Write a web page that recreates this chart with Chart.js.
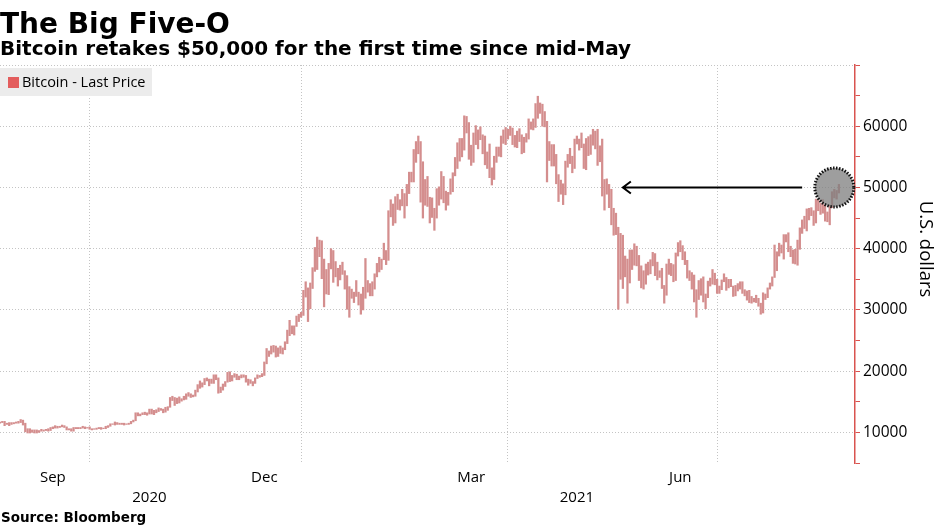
<!DOCTYPE html>
<html>
<head>
<meta charset="utf-8">
<script src="https://cdn.jsdelivr.net/npm/chart.js@4"></script>
<style>
  body { margin: 0; background: #fff; }
  #wrap { position: relative; width: 936px; height: 526px; overflow: hidden; }
  canvas { position: absolute; left: 0; top: 0; }
  .txt { position: absolute; left: 0; white-space: nowrap; line-height: 1; color: #000; font-family: "DejaVu Sans", sans-serif; font-weight: bold; }
  #title { top: 10px; font-size: 28px; }
  #subtitle { top: 38px; font-size: 20px; }
  #source { top: 511px; font-size: 13.5px; left: 1px; }
  #legend { position: absolute; left: 0; top: 68px; width: 152px; height: 28px; background: #ececec;
            font-family: "Open Sans", sans-serif; font-size: 14.5px; line-height: 28px; color: #000; }
  #legend i { position: absolute; left: 8px; top: 9px; width: 11px; height: 11px; background: #e35d5d; }
  #legend span { position: absolute; left: 22px; top: 0; }
</style>
</head>
<body>
<div id="wrap">
  <canvas id="c" width="936" height="526"></canvas>
  <div class="txt" id="title">The Big Five-O</div>
  <div class="txt" id="subtitle">Bitcoin retakes $50,000 for the first time since mid-May</div>
  <div class="txt" id="source">Source: Bloomberg</div>
  <div id="legend"><i></i><span>Bitcoin - Last Price</span></div>
</div>
<script>
// daily bars, one per day starting at startDate (values in thousands of dollars)
var startDate = "2020-08-23";

var highs = [
	// Aug 2020 (from 23rd)
	11.7, 11.8, 11.8, 11.5, 11.6, 11.6, 11.6, 11.7, 11.8,
	// Sep
	12.1, 12.0, 11.5, 10.6, 10.6, 10.4, 10.4, 10.4, 10.3, 10.5, 10.4, 10.5, 10.6, 10.8, 10.9, 11.1, 11.0, 11.0, 11.2, 11.1,
	10.9, 10.6, 10.6, 10.8, 10.8, 10.8, 10.8, 11.0, 10.9, 10.8,
	// Oct
	10.9, 10.6, 10.6, 10.7, 10.8, 10.8, 10.7, 11.0, 11.1, 11.4, 11.4, 11.7, 11.6, 11.5, 11.5, 11.5, 11.4, 11.5, 11.8, 12.0,
	13.2, 13.2, 13.0, 13.2, 13.3, 13.2, 13.8, 13.8, 13.6, 13.7, 14.0,
	// Nov
	13.9, 13.8, 14.1, 14.2, 15.7, 15.9, 15.7, 15.6, 15.8, 15.5, 15.9, 16.3, 16.5, 16.3, 16.1, 16.9, 17.8, 18.4, 18.1, 18.8,
	18.9, 18.7, 18.7, 19.4, 19.4, 18.9, 17.4, 17.9, 18.3, 19.8,
	// Dec
	19.9, 19.3, 19.6, 19.5, 19.2, 19.4, 19.4, 19.3, 18.7, 18.6, 18.3, 18.9, 19.4, 19.3, 19.6, 21.5, 23.7, 23.3, 24.1, 24.2,
	24.1, 23.8, 24.1, 23.8, 24.8, 26.7, 28.3, 27.4, 27.4, 29.0, 29.3,
	// Jan 2021
	29.6, 33.2, 34.6, 33.6, 34.4, 36.9, 40.2, 41.9, 41.4, 41.3, 38.3, 36.6, 37.6, 40.0, 39.7, 37.9, 36.8, 37.3, 37.8, 36.4,
	35.6, 33.8, 33.4, 32.9, 34.8, 32.9, 32.6, 33.7, 38.4, 34.8, 34.3,
	// Feb
	34.6, 35.9, 37.6, 38.6, 38.3, 40.9, 39.7, 46.2, 48.0, 47.3, 48.5, 48.9, 48.0, 49.7, 49.0, 50.5, 52.5, 52.5, 56.2, 57.5,
	58.4, 57.5, 54.2, 51.3, 51.8, 48.4, 48.3, 46.6,
	// Mar
	49.8, 50.1, 52.6, 51.8, 49.4, 49.2, 51.4, 52.4, 54.9, 57.3, 58.0, 58.0, 61.7, 61.6, 60.6, 56.9, 58.9, 60.1, 59.4, 59.9,
	58.6, 58.4, 55.8, 57.1, 53.2, 55.1, 56.6, 56.6, 58.4, 59.4, 59.8,
	// Apr
	59.5, 60.0, 59.7, 58.5, 59.2, 59.6, 58.6, 58.2, 58.8, 61.2, 60.7, 61.2, 63.7, 64.9, 63.8, 63.6, 62.4, 60.8, 57.5, 57.0,
	57.0, 55.4, 52.1, 51.2, 50.6, 54.3, 55.4, 56.4, 55.1, 57.9,
	// May
	58.4, 57.9, 58.9, 57.1, 58.0, 58.3, 58.6, 59.5, 59.2, 59.5, 56.8, 57.9, 51.3, 51.4, 50.5, 49.7, 46.6, 45.8, 43.5, 42.5,
	42.2, 38.8, 38.3, 39.8, 39.8, 40.8, 40.4, 38.9, 37.2, 36.4, 37.5,
	// Jun
	37.8, 38.2, 39.4, 39.2, 37.8, 36.4, 36.8, 34.0, 37.5, 38.3, 37.6, 37.4, 39.3, 41.0, 41.3, 40.5, 39.5, 38.1, 36.4, 36.1,
	35.7, 33.3, 34.8, 35.1, 35.4, 32.6, 34.7, 35.2, 36.6, 36.0,
	// Jul
	35.0, 33.9, 34.9, 35.9, 35.3, 35.0, 35.0, 33.9, 34.0, 34.3, 34.6, 34.6, 33.3, 33.1, 33.2, 32.2, 31.9, 32.4, 31.9, 31.1,
	32.8, 32.6, 33.6, 34.4, 35.4, 40.6, 39.5, 40.9, 40.6, 42.3, 42.3,
	// Aug (to 23rd)
	42.6, 40.4, 39.8, 39.9, 41.4, 43.4, 44.7, 45.3, 46.5, 46.6, 46.7, 46.2, 48.1, 48.0, 47.4, 48.0, 47.1, 46.0, 47.1, 49.3,
	49.7, 49.5, 50.5
];

var lows = [
	// Aug 2020 (from 23rd)
	11.5, 11.6, 11.1, 11.3, 11.1, 11.3, 11.4, 11.5, 11.5,
	// Sep
	11.6, 11.2, 10.1, 9.9, 9.9, 10.0, 9.9, 9.9, 10.0, 10.2, 10.2, 10.3, 10.2, 10.3, 10.6, 10.7, 10.7, 10.8, 10.9, 10.8,
	10.4, 10.4, 10.2, 10.2, 10.6, 10.6, 10.6, 10.7, 10.6, 10.7,
	// Oct
	10.5, 10.4, 10.5, 10.5, 10.6, 10.5, 10.6, 10.6, 10.8, 11.0, 11.3, 11.2, 11.3, 11.3, 11.3, 11.2, 11.3, 11.3, 11.4, 11.7,
	11.9, 12.7, 12.7, 12.9, 12.9, 12.8, 13.0, 13.0, 12.9, 13.2, 13.4,
	// Nov
	13.6, 13.2, 13.3, 13.6, 14.1, 15.2, 14.4, 14.7, 14.8, 15.1, 15.3, 15.4, 15.9, 15.7, 15.8, 15.9, 16.6, 17.2, 17.4, 17.8,
	18.4, 17.6, 18.0, 18.0, 18.6, 16.4, 16.5, 16.9, 17.5, 18.2,
	// Dec
	18.3, 18.4, 19.0, 18.6, 18.6, 18.9, 19.0, 18.2, 17.7, 18.0, 17.6, 18.0, 18.8, 19.0, 19.1, 19.3, 21.2, 22.4, 22.8, 23.1,
	22.3, 22.4, 22.9, 22.8, 23.5, 24.5, 25.8, 26.1, 25.9, 27.3, 28.1,
	// Jan 2021
	28.8, 29.1, 32.1, 28.1, 30.2, 33.5, 36.3, 36.6, 38.7, 35.1, 30.5, 32.6, 32.5, 36.7, 34.5, 35.4, 33.9, 34.9, 35.8, 33.4,
	30.1, 28.8, 31.9, 31.2, 32.2, 30.8, 29.3, 30.0, 31.9, 32.9, 32.3,
	// Feb
	32.3, 33.4, 35.4, 36.2, 36.6, 38.2, 37.4, 38.1, 45.2, 43.8, 44.2, 46.4, 46.3, 47.0, 45.0, 47.0, 49.0, 50.9, 50.9, 54.1,
	55.5, 47.6, 45.0, 47.1, 46.9, 44.2, 45.1, 43.0,
	// Mar
	45.0, 47.1, 48.1, 47.5, 46.3, 47.1, 48.9, 49.3, 51.9, 53.1, 54.3, 55.0, 56.1, 58.9, 54.6, 53.6, 54.1, 57.0, 56.3, 57.8,
	55.5, 53.7, 53.1, 51.6, 50.4, 51.3, 54.1, 55.1, 55.0, 57.2, 57.0,
	// Apr
	57.9, 58.5, 57.0, 56.6, 56.5, 57.5, 55.5, 55.7, 57.4, 57.9, 59.5, 59.4, 59.8, 61.3, 62.1, 60.0, 59.9, 50.9, 54.4, 53.5,
	53.5, 50.6, 47.7, 48.9, 47.2, 48.8, 53.3, 53.9, 52.4, 53.1,
	// May
	57.1, 56.1, 56.5, 53.1, 52.9, 55.2, 55.4, 56.9, 56.3, 53.6, 54.2, 48.6, 46.3, 48.9, 46.7, 43.9, 42.2, 42.3, 30.1, 35.0,
	33.5, 35.4, 31.1, 34.4, 36.6, 37.3, 37.2, 34.8, 33.6, 33.4, 34.2,
	// Jun
	35.7, 35.9, 37.2, 35.6, 34.9, 35.3, 33.5, 31.1, 32.4, 35.8, 35.6, 34.6, 34.8, 38.8, 39.5, 38.2, 37.4, 35.2, 34.8, 33.4,
	31.3, 28.8, 31.7, 32.4, 31.3, 30.2, 32.0, 33.9, 34.2, 34.1,
	// Jul
	32.7, 32.7, 33.3, 34.6, 33.2, 33.6, 33.8, 32.2, 32.3, 33.1, 33.4, 32.7, 32.3, 31.6, 31.2, 31.1, 31.3, 31.2, 30.6, 29.3,
	29.5, 31.7, 32.0, 33.4, 33.9, 35.3, 36.4, 38.8, 39.3, 38.3, 41.1,
	// Aug (to 23rd)
	39.5, 38.7, 37.6, 37.5, 37.3, 39.9, 42.5, 43.3, 42.9, 44.7, 45.4, 43.8, 44.2, 46.2, 45.6, 45.8, 44.5, 44.4, 43.9, 46.7,
	48.3, 48.1, 49.1
];

// axis labels
var monthLabels = ["Sep", "Dec", "Mar", "Jun"];
var monthLabelDates = ["2020-09-15", "2020-12-16", "2021-03-16", "2021-06-15"];
var yearLabels = ["2020", "2021"];
var yearLabelDates = ["2020-10-27", "2021-05-01"];
var gridDates = ["2020-10-01", "2021-01-01", "2021-04-01", "2021-07-01"];
var endDate = "2021-08-30";
var yLabels = [10000, 20000, 30000, 40000, 50000, 60000];
var yGridLines = [10000, 20000, 30000, 40000, 50000, 60000, 70000];
var yTitle = "U.S. dollars";

// annotation
var arrowFromDate = "2021-08-07";
var arrowToDate = "2021-05-21";
var arrowLevel = 50000;
var circleDate = "2021-08-21";
var circleLevel = 50000;

function dayOf(d) {
	return (Date.parse(d) - Date.parse(startDate)) / 864e5;
}

var bars = highs.map((h, i) => ({ x: i, y: [lows[i] * 1000, h * 1000] }));

var annotations = {
	id: "annotations",
	afterDatasetsDraw(chart) {
		var ctx = chart.ctx;
		var x = chart.scales.x, y = chart.scales.y;

		// arrow pointing back to mid-May
		var xa = x.getPixelForValue(dayOf(arrowFromDate));
		var xb = x.getPixelForValue(dayOf(arrowToDate));
		var ya = y.getPixelForValue(arrowLevel);
		ctx.save();
		ctx.strokeStyle = "#000";
		ctx.lineWidth = 2;
		ctx.beginPath();
		ctx.moveTo(xa, ya);
		ctx.lineTo(xb, ya);
		ctx.moveTo(xb + 8, ya - 6);
		ctx.lineTo(xb, ya);
		ctx.lineTo(xb + 8, ya + 6);
		ctx.stroke();

		// highlight circle
		var xc = x.getPixelForValue(dayOf(circleDate));
		var yc = y.getPixelForValue(circleLevel);
		ctx.beginPath();
		ctx.arc(xc, yc, 19.5, 0, Math.PI * 2);
		ctx.fillStyle = "rgba(125,125,125,0.75)";
		ctx.fill();
		ctx.setLineDash([1.5, 1.5]);
		ctx.lineWidth = 3;
		ctx.strokeStyle = "#111";
		ctx.stroke();
		ctx.restore();
	},
	afterDraw(chart) {
		var ctx = chart.ctx;
		var x = chart.scales.x, y = chart.scales.y;
		ctx.save();
		ctx.fillStyle = "#000";
		ctx.font = "15px 'Open Sans', sans-serif";
		ctx.textAlign = "center";
		ctx.textBaseline = "middle";
		monthLabels.forEach((t, i) => ctx.fillText(t, x.getPixelForValue(dayOf(monthLabelDates[i])), 478));
		yearLabels.forEach((t, i) => ctx.fillText(t, x.getPixelForValue(dayOf(yearLabelDates[i])), 498));

		// axis title, reads top to bottom, sits a little above the axis middle
		ctx.translate(y.right - 11, (y.top + y.bottom) / 2 - 15);
		ctx.rotate(Math.PI / 2);
		ctx.font = "18.5px 'Open Sans', sans-serif";
		ctx.fillText(yTitle, 0, 0);
		ctx.restore();
	}
};

new Chart(document.getElementById("c").getContext("2d"), {
	type: "bar",
	data: {
		datasets: [{
			label: "Bitcoin - Last Price",
			data: bars,
			backgroundColor: "#d48e8e",
			barThickness: 1.6,
			borderWidth: 0
		}]
	},
	options: {
		responsive: false,
		animation: false,
		devicePixelRatio: 1,
		layout: { padding: { top: 65, left: 0, right: 0, bottom: 63 } },
		plugins: { legend: { display: false }, tooltip: { enabled: false } },
		scales: {
			x: {
				type: "linear",
				offset: false,
				min: 0,
				max: dayOf(endDate),
				afterBuildTicks: s => { s.ticks = gridDates.map(d => ({ value: dayOf(d) })); },
				ticks: { display: false },
				grid: { color: "#c4c4c4", drawTicks: false, lineWidth: 1, offset: false },
				border: { display: false, dash: [1, 2] }
			},
			y: {
				position: "right",
				min: 5000,
				max: 70000,
				ticks: {
					stepSize: 5000,
					autoSkip: false,
					color: "#000",
					font: { family: "'Open Sans', sans-serif", size: 15.5 },
					padding: 3,
					callback: v => yLabels.includes(v) ? String(v) : ""
				},
				grid: {
					color: c => yGridLines.includes(c.tick.value) ? "#c4c4c4" : "rgba(0,0,0,0)",
					tickColor: "#d9534f",
					tickLength: 5,
					tickWidth: 1
				},
				border: { color: "#d9534f", width: 1.5, dash: [1, 2] },
				afterFit: s => { s.width = 81; }
			}
		}
	},
	plugins: [annotations]
});
</script>
</body>
</html>
